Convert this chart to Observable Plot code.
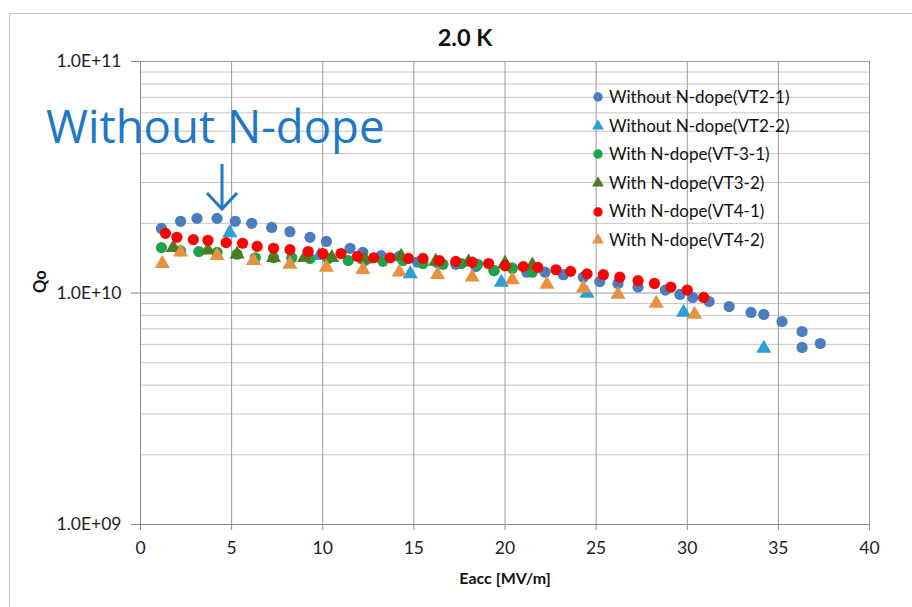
<!DOCTYPE html>
<html>
<head>
<meta charset="utf-8">
<script src="https://cdn.jsdelivr.net/npm/d3@7"></script>
<script src="https://cdn.jsdelivr.net/npm/@observablehq/plot@0.6"></script>
<style>
  html, body { margin: 0; padding: 0; background: #fff; overflow: hidden; }
  #wrap { position: relative; width: 912px; height: 607px; overflow: hidden; font-family: Lato, "Open Sans", sans-serif; }
  #frame { position: absolute; left: 9px; top: 13px; width: 940px; height: 620px; border: 1px solid #c4c4c4; box-sizing: border-box; }
  #chart { position: absolute; left: 0; top: 0; }
  #legend { position: absolute; left: 590px; top: 83px; font-size: 17px; color: #111; line-height: 28.6px; }
  #legend .row { display: flex; align-items: center; white-space: nowrap; }
  #legend svg { width: 16px; height: 16px; margin-right: 3px; }
  #note { position: absolute; left: 46px; top: 94px; font-family: "Open Sans", sans-serif; font-size: 45.5px; color: #1f77c8; white-space: nowrap; }
  #arrow { position: absolute; left: 200px; top: 160px; }
</style>
</head>
<body>
<div id="wrap">
  <div id="frame"></div>
  <div id="chart"></div>
  <div id="note">Without N-dope</div>
  <svg id="arrow" width="44" height="56"><path d="M22 4 V48 M7 33 L22 49 L37 33" fill="none" stroke="#1f77c8" stroke-width="3"/></svg>
  <div id="legend"></div>
</div>
<script>
// Q0 versus accelerating gradient at 2.0 K for six vertical tests
const seriesNames = [
  "Without N-dope(VT2-1)",
  "Without N-dope(VT2-2)",
  "With N-dope(VT-3-1)",
  "With N-dope(VT3-2)",
  "With N-dope(VT4-1)",
  "With N-dope(VT4-2)"
];
const seriesColors = ["#4a7dbf", "#2e9ddb", "#1fa34a", "#4e7a22", "#ff0000", "#e8913f"];
const seriesSymbols = ["circle", "triangle", "circle", "triangle", "circle", "triangle"];

// Eacc [MV/m] and Q0 for each test
const vt21Eacc = [1.15, 2.2, 3.1, 4.2, 5.2, 6.1, 7.2, 8.2, 9.3, 10.2, 11.5, 12.2, 13.2, 14.2, 15.2, 16.3, 17.3, 18.4, 19.4, 20.4, 21.2, 22.2, 23.2, 24.3, 25.2, 26.2, 27.3, 28.8, 29.6, 30.3, 31.2, 32.3, 33.5, 34.2, 35.2, 36.3, 36.3, 37.3];
const vt21Q0   = [1.90e10, 2.04e10, 2.10e10, 2.10e10, 2.04e10, 2.00e10, 1.92e10, 1.84e10, 1.74e10, 1.67e10, 1.56e10, 1.50e10, 1.45e10, 1.44e10, 1.36e10, 1.35e10, 1.33e10, 1.30e10, 1.25e10, 1.28e10, 1.23e10, 1.23e10, 1.20e10, 1.17e10, 1.12e10, 1.10e10, 1.06e10, 1.03e10, 0.986e10, 0.957e10, 0.919e10, 0.874e10, 0.824e10, 0.808e10, 0.753e10, 0.682e10, 0.582e10, 0.605e10];

const vt22Eacc = [4.9, 9.8, 14.8, 19.8, 24.5, 29.8, 34.2];
const vt22Q0   = [1.82e10, 1.45e10, 1.21e10, 1.11e10, 0.995e10, 0.824e10, 0.576e10];

const vt31Eacc = [1.15, 2.2, 3.2, 4.2, 5.3, 6.3, 7.3, 8.3, 9.3, 10.3, 11.4, 12.3, 13.3, 14.4, 15.5, 16.6, 17.6, 18.5, 19.4, 20.4, 21.5];
const vt31Q0   = [1.57e10, 1.52e10, 1.51e10, 1.50e10, 1.47e10, 1.42e10, 1.42e10, 1.42e10, 1.41e10, 1.41e10, 1.38e10, 1.38e10, 1.37e10, 1.38e10, 1.34e10, 1.33e10, 1.34e10, 1.33e10, 1.25e10, 1.28e10, 1.23e10];

const vt32Eacc = [1.8, 3.7, 5.3, 7.3, 9.0, 10.5, 12.3, 14.3, 16.2, 18.0, 20.0, 21.5];
const vt32Q0   = [1.57e10, 1.53e10, 1.47e10, 1.42e10, 1.42e10, 1.42e10, 1.40e10, 1.44e10, 1.37e10, 1.36e10, 1.34e10, 1.32e10];

const vt41Eacc = [1.37, 2.0, 2.9, 3.7, 4.7, 5.6, 6.4, 7.3, 8.2, 9.2, 10.0, 11.0, 11.9, 12.8, 13.7, 14.7, 15.5, 16.4, 17.3, 18.2, 19.1, 20.0, 21.0, 21.8, 22.8, 23.6, 24.5, 25.4, 26.3, 27.3, 28.2, 29.1, 30.0, 30.9];
const vt41Q0   = [1.81e10, 1.74e10, 1.70e10, 1.69e10, 1.65e10, 1.64e10, 1.59e10, 1.56e10, 1.54e10, 1.51e10, 1.48e10, 1.48e10, 1.44e10, 1.42e10, 1.42e10, 1.41e10, 1.41e10, 1.38e10, 1.37e10, 1.36e10, 1.34e10, 1.31e10, 1.30e10, 1.29e10, 1.26e10, 1.24e10, 1.21e10, 1.20e10, 1.17e10, 1.13e10, 1.10e10, 1.06e10, 1.03e10, 0.957e10];

const vt42Eacc = [1.2, 2.2, 4.2, 6.2, 8.2, 10.2, 12.2, 14.2, 16.3, 18.2, 20.4, 22.3, 24.3, 26.2, 28.3, 30.4];
const vt42Q0   = [1.34e10, 1.50e10, 1.45e10, 1.38e10, 1.33e10, 1.29e10, 1.26e10, 1.23e10, 1.20e10, 1.17e10, 1.14e10, 1.09e10, 1.05e10, 0.986e10, 0.902e10, 0.808e10];

// Axes
const xDomain = [0, 40];
const xTicks = [0, 5, 10, 15, 20, 25, 30, 35, 40];
const yDomain = [1e9, 1e11];
const yTicks = [1e9, 1e10, 1e11];
const yTickLabels = ["1.0E+09", "1.0E+10", "1.0E+11"];

const allEacc = [vt21Eacc, vt22Eacc, vt31Eacc, vt32Eacc, vt41Eacc, vt42Eacc];
const allQ0 = [vt21Q0, vt22Q0, vt31Q0, vt32Q0, vt41Q0, vt42Q0];

const rows = [];
seriesNames.forEach((name, i) => {
  allEacc[i].forEach((e, j) => rows.push({series: name, eacc: e, q0: allQ0[i][j]}));
});

const minorTicks = d3.scaleLog().domain(yDomain).ticks().filter(v => !yTicks.includes(v));
const fmtY = d => yTickLabels[yTicks.indexOf(d)];

const chart = Plot.plot({
  width: 912,
  height: 607,
  marginLeft: 140,
  marginRight: 43,
  marginTop: 61,
  marginBottom: 83,
  style: {fontFamily: "Lato, 'Open Sans', sans-serif", fontSize: "16px", color: "#222", background: "transparent"},
  x: {domain: xDomain},
  y: {type: "log", domain: yDomain},
  color: {domain: seriesNames, range: seriesColors},
  symbol: {domain: seriesNames, range: seriesSymbols},
  marks: [
    Plot.gridY(minorTicks, {stroke: "#c6c6c6", strokeOpacity: 1}),
    Plot.gridY(yTicks, {stroke: "#9a9a9a", strokeOpacity: 1}),
    Plot.gridX(xTicks, {stroke: "#9a9a9a", strokeOpacity: 1}),
    Plot.axisX(xTicks, {tickSize: 6, tickPadding: 11, label: null, stroke: "#8a8a8a", fontSize: 17.5}),
    Plot.axisY(yTicks, {tickSize: 9, tickPadding: 10, label: null, tickFormat: fmtY, stroke: "#8a8a8a", fontSize: 17.5}),
    Plot.ruleX([xDomain[0]], {stroke: "#8a8a8a"}),
    Plot.ruleY([yDomain[0]], {stroke: "#8a8a8a"}),
    Plot.dot(rows, {x: "eacc", y: "q0", fill: "series", symbol: "series", r: 5.6, stroke: "none"}),
    Plot.text(["2.0 K"], {frameAnchor: "top", lineAnchor: "middle", dx: -40, dy: -23, fontSize: 23.5, fontWeight: "bold", fill: "#111"}),
    Plot.text(["Eacc [MV/m]"], {frameAnchor: "bottom", lineAnchor: "middle", dy: 54, fontSize: 16, fontWeight: "bold", fill: "#111"}),
    Plot.text(["Qo"], {frameAnchor: "left", dx: -100, rotate: -90, fontSize: 16.5, fontWeight: "bold", fill: "#111"})
  ]
});
document.getElementById("chart").append(chart);

// Legend rows with the same symbols as the marks
const legend = d3.select("#legend");
seriesNames.forEach((name, i) => {
  const row = legend.append("div").attr("class", "row");
  const svg = row.append("svg").attr("viewBox", "-8 -8 16 16");
  const sym = seriesSymbols[i] === "circle" ? d3.symbolCircle : d3.symbolTriangle;
  svg.append("path").attr("d", d3.symbol(sym, seriesSymbols[i] === "circle" ? 70 : 60)()).attr("fill", seriesColors[i]);
  row.append("span").text(name);
});
</script>
</body>
</html>
